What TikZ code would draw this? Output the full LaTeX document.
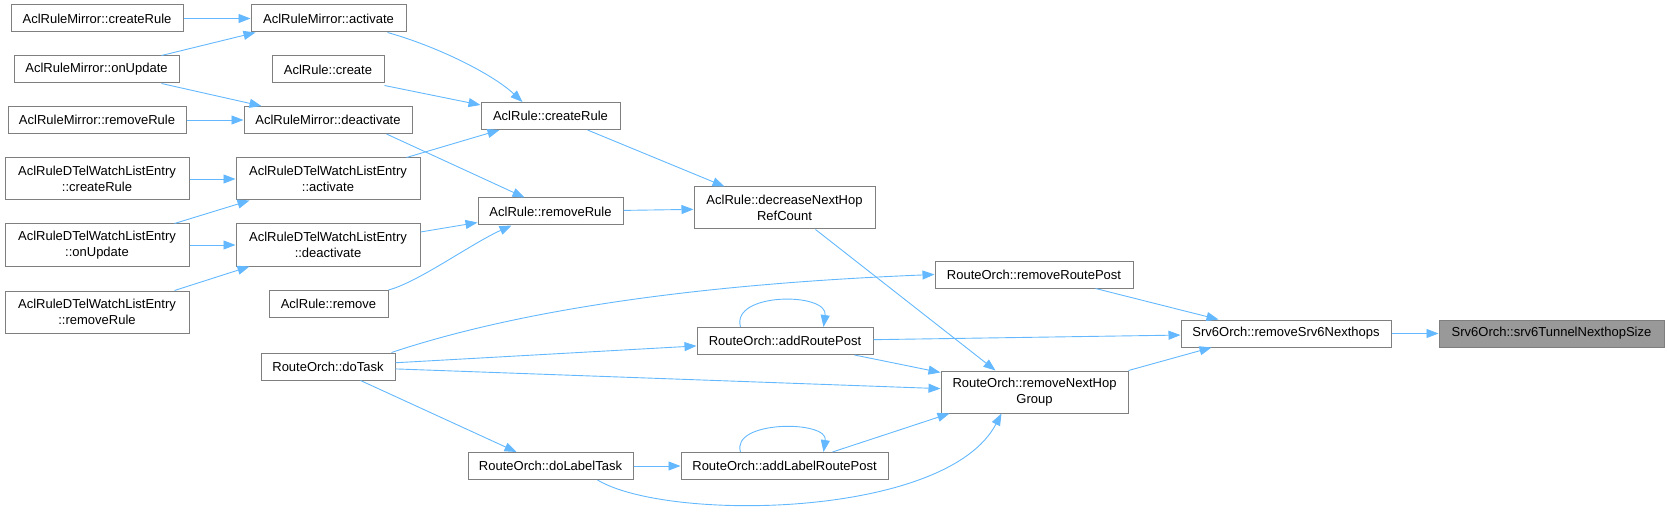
\documentclass[tikz,border=0pt]{standalone}
\usepackage{fontspec}
\setmainfont{Liberation Sans}
\usetikzlibrary{arrows.meta}
\definecolor{edgeblue}{HTML}{63B8FF}
\definecolor{boxline}{HTML}{7F7F7F}
\definecolor{boxfill}{HTML}{999999}
\begin{document}
\begin{tikzpicture}[x=1pt, y=-1pt,
  fn/.style={draw=boxline, line width=1pt, fill=white, inner sep=0pt, align=center,
    font=\fontsize{13}{15.5}\selectfont, minimum height=27pt},
  fn2/.style={fn, minimum height=42pt},
  edge/.style={draw=edgeblue, line width=0.9pt, -{Triangle[length=12pt,width=9pt]}}]
\useasboundingbox (0,0) rectangle (1668,513);
% first column
\node[fn, minimum width=172pt] (mcr) at (97,18.5) {AclRuleMirror::createRule};
\node[fn, minimum width=165pt] (mupd) at (96.5,69.5) {AclRuleMirror::onUpdate};
\node[fn, minimum width=178pt] (mrem) at (97,120) {AclRuleMirror::removeRule};
\node[fn2, minimum width=184pt] (dcr) at (97,179) {AclRuleDTelWatchListEntry\\::createRule};
\node[fn2, minimum width=184pt] (dupd) at (97,245) {AclRuleDTelWatchListEntry\\::onUpdate};
\node[fn2, minimum width=184pt] (drem) at (97,312) {AclRuleDTelWatchListEntry\\::removeRule};
% second column
\node[fn, minimum width=155pt] (mact) at (328.5,18.5) {AclRuleMirror::activate};
\node[fn, minimum width=112pt] (rcreate) at (328,69.5) {AclRule::create};
\node[fn, minimum width=168pt] (mdeact) at (328,120) {AclRuleMirror::deactivate};
\node[fn2, minimum width=184pt] (dact) at (328,179) {AclRuleDTelWatchListEntry\\::activate};
\node[fn2, minimum width=184pt] (ddeact) at (328,245) {AclRuleDTelWatchListEntry\\::deactivate};
\node[fn, minimum width=119pt] (rremove) at (328.5,304) {AclRule::remove};
\node[fn, minimum width=134pt] (dotask) at (328,366.5) {RouteOrch::doTask};
% third column
\node[fn, minimum width=139pt] (createrule) at (550.5,116) {AclRule::createRule};
\node[fn, minimum width=145pt] (removerule) at (550.5,211.5) {AclRule::removeRule};
\node[fn, minimum width=165pt] (dolabel) at (550.5,466) {RouteOrch::doLabelTask};
% fourth column
\node[fn2, minimum width=181pt] (decrease) at (784.5,208) {AclRule::decreaseNextHop\\RefCount};
\node[fn, minimum width=176pt] (addroute) at (785,341) {RouteOrch::addRoutePost};
\node[fn, minimum width=207pt] (addlabel) at (784.5,466) {RouteOrch::addLabelRoutePost};
% fifth column
\node[fn, minimum width=198pt] (removeroute) at (1034,274.5) {RouteOrch::removeRoutePost};
\node[fn2, minimum width=187pt] (removenhg) at (1034.5,392) {RouteOrch::removeNextHop\\Group};
% last two
\node[fn, minimum width=210pt] (removesrv6) at (1286,333.5) {Srv6Orch::removeSrv6Nexthops};
\node[fn, minimum width=225pt, fill=boxfill] (tunnelsize) at (1551.5,333.5) {Srv6Orch::srv6TunnelNexthopSize};

\draw[edge] (mcr) -- (mact);
\draw[edge] ([xshift=-18pt]mupd.north east) -- ([xshift=5pt]mact.south west);
\draw[edge] ([xshift=-18pt]mupd.south east) -- ([xshift=18pt]mdeact.north west);
\draw[edge] (mrem) -- (mdeact);
\draw[edge] (dcr) -- (dact);
\draw[edge] ([xshift=-15pt]dupd.north east) -- ([xshift=14pt]dact.south west);
\draw[edge] (dupd) -- (ddeact);
\draw[edge] ([xshift=-15pt]drem.north east) -- ([xshift=14pt]ddeact.south west);
\draw[edge] ([xshift=-19pt]mact.south east) .. controls +(50,14) and +(-30,-28) .. ([xshift=42pt]createrule.north west);
\draw[edge] ([yshift=-2pt]rcreate.south east) -- ([yshift=-3pt]createrule.north west);
\draw[edge] ([xshift=-14pt]dact.north east) -- ([xshift=19pt]createrule.south west);
\draw[edge] ([xshift=-26pt]mdeact.south east) -- ([xshift=47pt]removerule.north west);
\draw[edge] ([yshift=13pt]ddeact.east) -- ([yshift=3pt]removerule.south west);
\draw[edge] (rremove.north east) .. controls +(30,-8) and +(-40,18) .. ([xshift=34pt]removerule.south west);
\draw[edge] ([xshift=-33pt]createrule.south east) -- ([xshift=31pt]decrease.north west);
\draw[edge] (removerule) -- (decrease);
\draw[edge] ([xshift=-60pt]decrease.south east) -- ([xshift=55pt]removenhg.north west);
\draw[edge] ([xshift=-4pt]dotask.north east) .. controls +(120,-40) and +(-250,10) .. (removeroute.west);
\draw[edge] (dotask) -- (addroute);
\draw[edge] (dotask) -- (removenhg);
\draw[edge] ([xshift=-35pt]dotask.south east) -- ([xshift=49pt]dolabel.north west);
\draw[edge] ([xshift=44pt]addroute.north west) .. controls +(-10,-35) and +(5,-35) .. ([xshift=127pt]addroute.north west);
\draw[edge] ([xshift=-19pt]addroute.south east) -- ([yshift=-2pt]removenhg.north west);
\draw[edge] (addroute) -- (removesrv6);
\draw[edge] ([xshift=-38pt]removeroute.south east) -- ([xshift=38pt]removesrv6.north west);
\draw[edge] (removenhg.north east) -- ([xshift=31pt]removesrv6.south west);
\draw[edge] (dolabel) -- (addlabel);
\draw[edge] ([xshift=60pt]addlabel.north west) .. controls +(-10,-32) and +(5,-32) .. ([xshift=143pt]addlabel.north west);
\draw[edge] ([xshift=-56pt]addlabel.north east) -- ([xshift=9pt]removenhg.south west);
\draw[edge] ([xshift=-36pt]dolabel.south east) .. controls +(70,42) and +(-55,105) .. ([xshift=61pt]removenhg.south west);
\draw[edge] (removesrv6) -- (tunnelsize);
\end{tikzpicture}
\end{document}
